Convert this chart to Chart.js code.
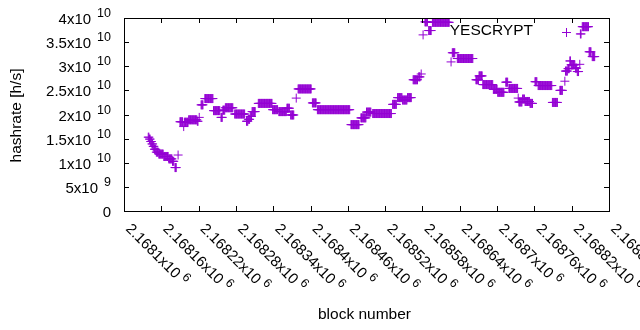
<!DOCTYPE html>
<html>
<head>
<meta charset="utf-8">
<script src="https://cdn.jsdelivr.net/npm/chart.js@4.4.1/dist/chart.umd.min.js"></script>
<style>
body{margin:0;background:#fff}
#wrap{width:640px;height:330px}
</style>
</head>
<body>
<div id="wrap"><canvas id="myChart" width="640" height="330"></canvas></div>
<script>
// runs of blocks: first / last block (offset from blockBase), hashrate in 1e9 h/s
blockBase = 2168000
runFirst = [139,141,143,145,147,149,152,156,164,172,178,182,187,
	190,196,197,204,218,221,224,230,244,256,259,263,278,297,300,303,306,
	316,339,349,362,368,377,380,403,411,465,481,490,500,532,540,548,556,
	565,574,578,581,584,590,596,626,628,636,666,671,677,694,701,714,719,
	734,735,741,745,753,761,766,789,801,809,810,814,817,819,826,829,833,
	834,837,848,853]
runLast = [140,142,144,146,148,151,155,163,171,177,180,184,187,
	194,196,203,217,219,221,227,243,254,258,262,275,294,299,302,305,311,
	338,347,361,366,373,377,401,409,463,478,489,497,530,538,547,555,562,
	572,576,578,581,588,594,623,626,632,661,670,676,693,700,711,717,733,
	734,740,744,752,757,764,788,797,805,809,813,816,818,825,828,831,833,
	835,847,851,857]
runRate = [15.3,14.9,14.4,13.9,13.4,12.8,12.2,11.8,11.3,10.8,10.3,9.0,11.6,
	18.5,17.5,18.4,18.9,18.6,19.4,22.0,23.3,20.8,19.4,20.9,21.4,20.1,18.6,19.0,19.6,20.6,
	22.3,21.0,20.6,21.3,19.9,23.4,25.3,22.4,21.0,17.9,19.3,20.5,20.2,22.1,23.5,23.0,23.5,
	27.2,27.8,28.4,36.5,39.2,37.4,39.1,30.9,32.8,31.6,27.2,28.0,26.2,25.2,24.6,26.7,25.4,
	23.4,22.6,23.2,22.7,22.3,26.8,26.0,22.5,25.0,26.9,29.0,29.5,31.1,30.3,29.6,28.9,30.4,
	36.7,38.2,33.0,32.0]

xTicks = [2168100,2168160,2168220,2168280,2168340,2168400,2168460,2168520,2168580,2168640,2168700,2168760,2168820,2168880]
yTicks = [0,5e9,1e10,1.5e10,2e10,2.5e10,3e10,3.5e10,4e10]
seriesName = 'YESCRYPT'
xTitle = 'block number'
yTitle = 'hashrate [h/s]'
purple = '#9400d3'
fontName = '"Liberation Sans", Arial, sans-serif'

points = []
for(i=0;i<runFirst.length;i++){
	for(b=runFirst[i];b<=runLast[i];b++){
		points.push({x: blockBase + b, y: runRate[i]*1e9})
	}
}

function splitSci(v){
	if(v==0){return ['0','']}
	e = Math.floor(Math.log10(v) + 1e-9)
	m = parseFloat((v/Math.pow(10,e)).toFixed(6))
	return [m + 'x10', String(e)]
}

const gnuFrame = {
	id: 'gnuFrame',
	afterDraw(chart){
		const ctx = chart.ctx, a = chart.chartArea
		const xs = chart.scales.x, ys = chart.scales.y
		ctx.save()
		ctx.strokeStyle = '#000'
		ctx.lineWidth = 1
		ctx.strokeRect(a.left+0.5, a.top+0.5, a.right-a.left, a.bottom-a.top)
		ctx.beginPath()
		yTicks.forEach(v => {
			py = Math.round(ys.getPixelForValue(v)) + 0.5
			ctx.moveTo(a.left, py); ctx.lineTo(a.left+5, py)
			ctx.moveTo(a.right, py); ctx.lineTo(a.right-5, py)
		})
		xTicks.forEach(v => {
			px = Math.round(xs.getPixelForValue(v)) + 0.5
			ctx.moveTo(px, a.bottom); ctx.lineTo(px, a.bottom-5)
			ctx.moveTo(px, a.top); ctx.lineTo(px, a.top+5)
		})
		ctx.stroke()

		ctx.fillStyle = '#000'
		ctx.textBaseline = 'alphabetic'
		ctx.textAlign = 'left'
		// y tick labels, right justified
		yTicks.forEach(v => {
			py = ys.getPixelForValue(v)
			parts = splitSci(v)
			ctx.font = '15px ' + fontName
			wMain = ctx.measureText(parts[0]).width
			ctx.font = '12.5px ' + fontName
			wSup = parts[1] ? ctx.measureText(parts[1]).width + 6 : 0
			x0 = 111 - wMain - wSup
			ctx.font = '15px ' + fontName
			ctx.fillText(parts[0], x0, py + 6)
			if(parts[1]){
				ctx.font = '12.5px ' + fontName
				ctx.fillText(parts[1], x0 + wMain + 6, py - 1)
			}
		})
		// x tick labels, rotated down-right
		xTicks.forEach(v => {
			px = xs.getPixelForValue(v)
			parts = splitSci(v)
			ctx.save()
			ctx.translate(px + 1, 229.5)
			ctx.rotate(Math.PI/4)
			ctx.font = '15px ' + fontName
			ctx.fillText(parts[0], 0, 0)
			wMain = ctx.measureText(parts[0]).width
			ctx.font = '12.5px ' + fontName
			ctx.fillText(parts[1], wMain + 4, -6)
			ctx.restore()
		})
		// axis titles
		ctx.font = '15.5px ' + fontName
		ctx.textAlign = 'center'
		ctx.textBaseline = 'middle'
		ctx.fillText(xTitle, (a.left+a.right)/2 - 2, 315)
		ctx.save()
		ctx.translate(17, (a.top+a.bottom)/2 + 1)
		ctx.rotate(-Math.PI/2)
		ctx.fillText(yTitle, 0, 0)
		ctx.restore()
		// key
		ctx.textAlign = 'right'
		ctx.fillText(seriesName, 533, 31)
		ctx.strokeStyle = purple
		ctx.beginPath()
		ctx.moveTo(562, 32.5); ctx.lineTo(571, 32.5)
		ctx.moveTo(566.5, 28); ctx.lineTo(566.5, 37)
		ctx.stroke()
		ctx.restore()
	}
}

const myChart = new Chart(document.getElementById('myChart'), {
	type: 'scatter',
	data: {
		datasets: [{
			label: seriesName,
			data: points,
			pointStyle: 'cross',
			pointRadius: 4.5,
			pointBorderWidth: 1,
			borderColor: purple,
			backgroundColor: purple,
			showLine: false
		}]
	},
	options: {
		responsive: false,
		animation: false,
		layout: {padding: {left: 124, top: 18, right: 31, bottom: 119}},
		plugins: {
			legend: {display: false},
			tooltip: {enabled: false}
		},
		scales: {
			x: {type: 'linear', min: xTicks[0], max: xTicks[xTicks.length-1], display: false},
			y: {type: 'linear', min: 0, max: yTicks[yTicks.length-1], display: false}
		}
	},
	plugins: [gnuFrame]
})
</script>
</body>
</html>
